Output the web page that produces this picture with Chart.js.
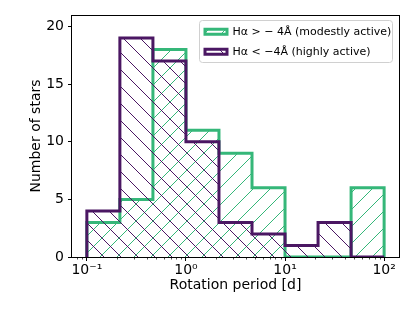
<!DOCTYPE html>
<html><head><meta charset="utf-8">
<script src="https://cdn.jsdelivr.net/npm/chart.js@4/dist/chart.umd.min.js"></script>
<style>html,body{margin:0;padding:0;background:#fff}#wrap{width:415px;height:311px;position:relative}canvas{display:block}</style>
</head><body><div id="wrap"><canvas id="c" width="415" height="311" style="width:415px;height:311px"></canvas></div>
<script>
// ---- data ----
const binEdges = [0.1, 0.2154, 0.4642, 1, 2.154, 4.642, 10, 21.54, 46.42, 100];
const modestCounts = [3, 5, 18, 11, 9, 6, 0, 0, 6];
const highCounts = [4, 19, 17, 10, 3, 2, 1, 3, 0];
const seriesLabels = ['Hα > − 4Å (modestly active)', 'Hα < −4Å (highly active)'];
const xMajorTicks = [0.1, 1, 10, 100];
const xTickLabels = ['10⁻¹', '10⁰', '10¹', '10²'];
const xMinorTicks = [0.08, 0.09, 0.2, 0.3, 0.4, 0.5, 0.6, 0.7, 0.8, 0.9, 2, 3, 4, 5, 6, 7, 8, 9, 20, 30, 40, 50, 60, 70, 80, 90];
const yTicks = [0, 5, 10, 15, 20];
const xLimits = [0.0708, 141.3];
const yLimits = [0, 21];

const GREEN = '#35b779';
const PURPLE = '#4b1763';
const FONT = "'DejaVu Sans', sans-serif";

function stepPoints(counts) {
  const pts = [{x: binEdges[0], y: 0}];
  counts.forEach((c, i) => pts.push({x: binEdges[i], y: c}));
  pts.push({x: binEdges[binEdges.length - 1], y: 0});
  return pts;
}

function hatch(color, dir, size) {
  const t = document.createElement('canvas');
  t.width = size; t.height = size;
  const g = t.getContext('2d');
  g.strokeStyle = color; g.lineWidth = 1;
  g.beginPath();
  if (dir === '/') {
    g.moveTo(-2, size + 2); g.lineTo(size + 2, -2);
    g.moveTo(-2, 2); g.lineTo(2, -2);
    g.moveTo(size - 2, size + 2); g.lineTo(size + 2, size - 2);
  } else {
    g.moveTo(-2, -2); g.lineTo(size + 2, size + 2);
    g.moveTo(size - 2, -2); g.lineTo(size + 2, 2);
    g.moveTo(-2, size - 2); g.lineTo(2, size + 2);
  }
  g.stroke();
  return g.createPattern(t, 'repeat');
}

const frameAndMinor = {
  id: 'frameAndMinor',
  afterLayout(chart) {
    const lg = chart.legend, ca = chart.chartArea;
    const L = ca.right - 203, T = ca.top + 2.3, W = 200, H = 50;
    lg.left = L; lg.top = T; lg.right = L + W; lg.bottom = T + H;
    lg.width = W; lg.height = H;
  },
  beforeDraw(chart) {
    const ctx = chart.ctx, ca = chart.chartArea;
    const x = ca.right - 199.5, y = ca.top + 5.5, w = 193, h = 42;
    ctx.save();
    ctx.beginPath();
    ctx.roundRect(x, y, w, h, 3);
    ctx.fillStyle = 'rgba(255,255,255,0.8)';
    ctx.fill();
    ctx.strokeStyle = '#d0d0d0';
    ctx.lineWidth = 1;
    ctx.stroke();
    ctx.restore();
  },
  afterDatasetsDraw(chart) {
    const ctx = chart.ctx, ca = chart.chartArea;
    ctx.save();
    ctx.strokeStyle = '#000';
    ctx.lineWidth = 1;
    ctx.strokeRect(Math.round(ca.left) - 0.5, Math.round(ca.top) + 0.5,
      Math.round(ca.right - ca.left) + 1, Math.round(ca.bottom - ca.top));
    const xs = chart.scales.x;
    ctx.lineWidth = 0.7;
    ctx.beginPath();
    xMinorTicks.forEach(v => {
      const px = Math.round(xs.getPixelForValue(v)) + 0.5;
      ctx.moveTo(px, ca.bottom); ctx.lineTo(px, ca.bottom + 2.5);
    });
    ctx.stroke();
    ctx.restore();
  }
};

const canvas = document.getElementById('c');

new Chart(canvas, {
  type: 'line',
  data: {
    datasets: [
      {
        label: seriesLabels[1],
        data: stepPoints(highCounts),
        borderColor: PURPLE, borderWidth: 3,
        backgroundColor: hatch(PURPLE, '\\', 17),
        fill: 'origin', stepped: 'before', pointRadius: 0, clip: 0
      },
      {
        label: seriesLabels[0],
        data: stepPoints(modestCounts),
        borderColor: GREEN, borderWidth: 3,
        backgroundColor: hatch(GREEN, '/', 17),
        fill: 'origin', stepped: 'before', pointRadius: 0, clip: 0
      }
    ]
  },
  options: {
    responsive: false,
    animation: false,
    devicePixelRatio: 1,
    layout: {padding: {left: 0, right: 16, top: 15, bottom: 0}},
    plugins: {
      tooltip: {enabled: false},
      legend: {
        position: 'chartArea',
        align: 'start',
        labels: {
          boxWidth: 22, boxHeight: 5, padding: 9,
          color: '#000',
          font: {family: FONT, size: 11},
          sort: (a, b) => b.datasetIndex - a.datasetIndex
        }
      }
    },
    scales: {
      x: {
        type: 'logarithmic',
        min: xLimits[0], max: xLimits[1],
        afterBuildTicks: s => { s.ticks = xMajorTicks.map(v => ({value: v, major: true})); },
        afterFit: s => { s.height = 54; },
        grid: {display: true, drawOnChartArea: false, drawTicks: true, tickLength: 4, tickColor: '#000', lineWidth: 1},
        border: {display: false},
        ticks: {
          autoSkip: false, maxRotation: 0, padding: 1, color: '#000',
          font: {family: FONT, size: 14},
          callback: v => { const i = xMajorTicks.indexOf(v); return i >= 0 ? xTickLabels[i] : ''; }
        },
        title: {display: true, text: 'Rotation period [d]', color: '#000',
          font: {family: FONT, size: 14}, padding: {top: 0, bottom: 17}}
      },
      y: {
        type: 'linear',
        min: yLimits[0], max: yLimits[1],
        afterBuildTicks: s => { s.ticks = yTicks.map(v => ({value: v})); },
        afterFit: s => { s.width = 72; },
        grid: {display: true, drawOnChartArea: false, drawTicks: true, tickLength: 4, tickColor: '#000', lineWidth: 1},
        border: {display: false},
        ticks: {padding: 4, color: '#000', font: {family: FONT, size: 14}},
        title: {display: true, text: 'Number of stars', color: '#000',
          font: {family: FONT, size: 14}, padding: {top: 28, bottom: 0}}
      }
    }
  },
  plugins: [frameAndMinor]
});
</script>
</body></html>
